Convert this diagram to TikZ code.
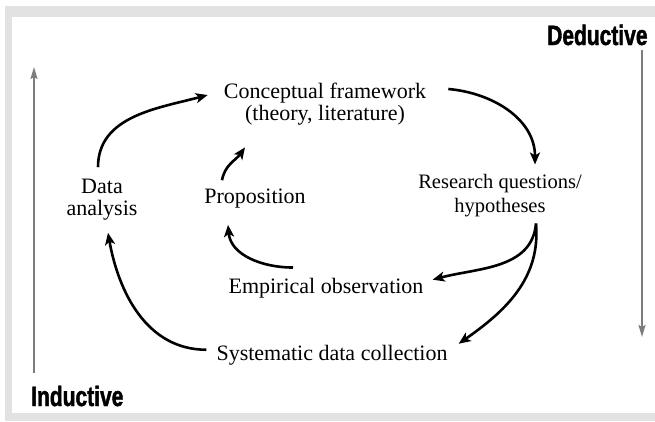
\documentclass[tikz,border=0pt]{standalone}
\usepackage{fontspec}
\setmainfont{Liberation Serif}
\newfontfamily\headfont[FakeStretch=0.75,FakeBold=1.5]{Liberation Sans}
\usepackage{xcolor}
\usepackage{tikz}
\usetikzlibrary{arrows.meta,positioning}
\definecolor{FrameGray}{RGB}{226,226,226}
\definecolor{AxisGray}{RGB}{125,125,125}
\tikzset{
  stage/.style={align=center,inner sep=2bp,
                font=\fontsize{22bp}{22bp}\selectfont},
  mode/.style={inner sep=0pt,font=\headfont\bfseries\fontsize{28bp}{28bp}\selectfont},
  flow/.style={-{Stealth[length=12bp,width=10bp,inset=3bp]},line width=2.6bp,black},
  trend/.style={-{Stealth[length=12bp,width=7bp,inset=2bp]},line width=1.8bp,AxisGray},
}

\begin{document}
\begin{tikzpicture}[x=1bp,y=1bp]
  \useasboundingbox (0,0) rectangle (655,-421);
  \fill[white] (0,0) rectangle (655,-421);
  \fill[FrameGray] (5,-6) rectangle (655,-421);
  \fill[white] (12,-17) rectangle (655,-413);

  % the stages of the cycle
  \node[stage] (concept) at (325,-104) {Conceptual framework\\(theory, literature)};
  \node[stage,font=\fontsize{20.5bp}{24bp}\selectfont] (research) at (500,-196)
       {Research questions/\\hypotheses};
  \node[stage] (data) at (102,-200) {Data\\analysis};
  \node[stage,anchor=base] (prop) at (255,-203) {Proposition};
  \node[stage,anchor=base] (empir) at (326,-293) {Empirical observation};
  \node[stage,anchor=base] (system) at (332,-360) {Systematic data collection};

  % the two directions
  \node[mode,anchor=base west] (deduct) at (547,-45) {Deductive};
  \node[mode,anchor=base west] (induct) at (31,-406) {Inductive};
  \coordinate (dedtop) at (642,-50);
  \coordinate (dedbot) at (642,-337);
  \coordinate (indbot) at (34,-373);
  \coordinate (indtop) at (34,-67);
  \draw[trend] (dedtop) -- (dedbot);
  \draw[trend] (indbot) -- (indtop);

  % the cycle
  \draw[flow] ([xshift=-4bp,yshift=10bp]data.north) to[out=90,in=195]
              ([xshift=-14bp,yshift=9bp]concept.west);
  \draw[flow] ([xshift=20bp,yshift=15bp]concept.east) to[out=-5,in=90]
              ([xshift=35bp,yshift=8bp]research.north);
  \draw[flow] ([xshift=36bp,yshift=-4bp]research.south) to[out=-95,in=15]
              ([xshift=7bp,yshift=8bp]empir.east);
  \draw[flow] ([xshift=36bp,yshift=-4bp]research.south) to[out=-85,in=35]
              ([xshift=9bp,yshift=11bp]system.east);
  \draw[flow] ([xshift=-33bp,yshift=8bp]empir.north) to[out=180,in=-85]
              ([xshift=-27bp,yshift=-15bp]prop.south);
  \draw[flow] ([xshift=-33bp,yshift=6bp]prop.north) to[out=80,in=235]
              ([xshift=-80bp,yshift=-20bp]concept.south);
  \draw[flow] ([xshift=-8bp,yshift=5bp]system.west) to[out=180,in=-80]
              ([xshift=6bp,yshift=-10bp]data.south);
\end{tikzpicture}
\end{document}
